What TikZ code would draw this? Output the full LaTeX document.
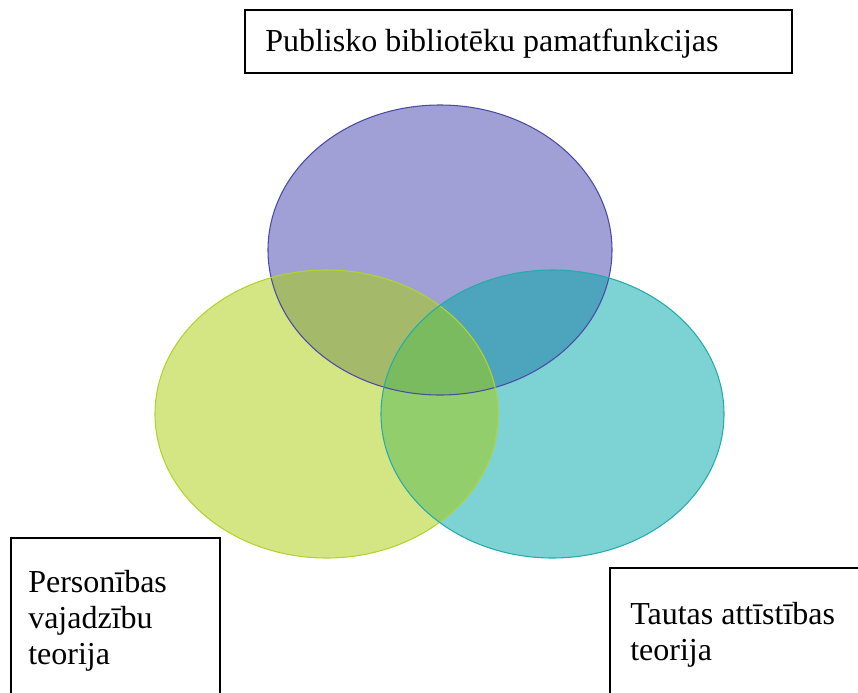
\documentclass[tikz,border=0pt]{standalone}
\usepackage{fontspec}
\setmainfont{Liberation Serif}
\definecolor{purpfill}{HTML}{A0A0D6}
\definecolor{grnfill}{HTML}{D4E684}
\definecolor{tealfill}{HTML}{7DD3D4}
\definecolor{pgfill}{HTML}{A5B96A}
\definecolor{ptfill}{HTML}{4CA5BD}
\definecolor{gtfill}{HTML}{92CF6C}
\definecolor{allfill}{HTML}{7ABB60}
\definecolor{purpline}{HTML}{4B4BA6}
\definecolor{grnline}{HTML}{B4D22E}
\definecolor{tealline}{HTML}{26ABAB}

\begin{document}
\begin{tikzpicture}[x=0.75pt,y=-0.75pt,inner sep=0pt]
\tikzstyle{every node}=[font=\fontsize{24}{27}\selectfont]
\tikzstyle{textbox}=[draw,line width=1.4pt,anchor=north west]
\tikzstyle{boxtext}=[anchor=base west,align=left]
\useasboundingbox (0,0) rectangle (858,693);
% the three ellipses
\fill[purpfill] (440,250) ellipse [x radius=172, y radius=145];
\fill[grnfill] (326.5,414) ellipse [x radius=171.5, y radius=144];
\fill[tealfill] (552.5,414) ellipse [x radius=171.5, y radius=144];
\begin{scope}
  \clip (440,250) ellipse [x radius=172, y radius=145];
  \fill[pgfill] (326.5,414) ellipse [x radius=171.5, y radius=144];
  \fill[ptfill] (552.5,414) ellipse [x radius=171.5, y radius=144];
\end{scope}
\begin{scope}
  \clip (326.5,414) ellipse [x radius=171.5, y radius=144];
  \fill[gtfill] (552.5,414) ellipse [x radius=171.5, y radius=144];
  \clip (440,250) ellipse [x radius=172, y radius=145];
  \fill[allfill] (552.5,414) ellipse [x radius=171.5, y radius=144];
\end{scope}
\draw[purpline,line width=0.8pt] (440,250) ellipse [x radius=172, y radius=145];
\draw[grnline,line width=0.8pt] (326.5,414) ellipse [x radius=171.5, y radius=144];
\draw[tealline,line width=0.8pt] (552.5,414) ellipse [x radius=171.5, y radius=144];
% boxes
\node[textbox,minimum width=410.25pt,minimum height=47.25pt] (topbox) at (244,9) {};
\node[textbox,minimum width=156.75pt,minimum height=120pt] (leftbox) at (10,537) {};
\node[textbox,minimum width=195pt,minimum height=105pt] (rightbox) at (609,567) {};
\node[boxtext] (toptext) at (265,51) {Publisko bibliotēku pamatfunkcijas};
\node[boxtext] (lefttext) at (28,664) {Personības\\vajadzību\\teorija};
\node[boxtext] (righttext) at (630,660) {Tautas attīstības\\teorija};
\end{tikzpicture}
\end{document}
